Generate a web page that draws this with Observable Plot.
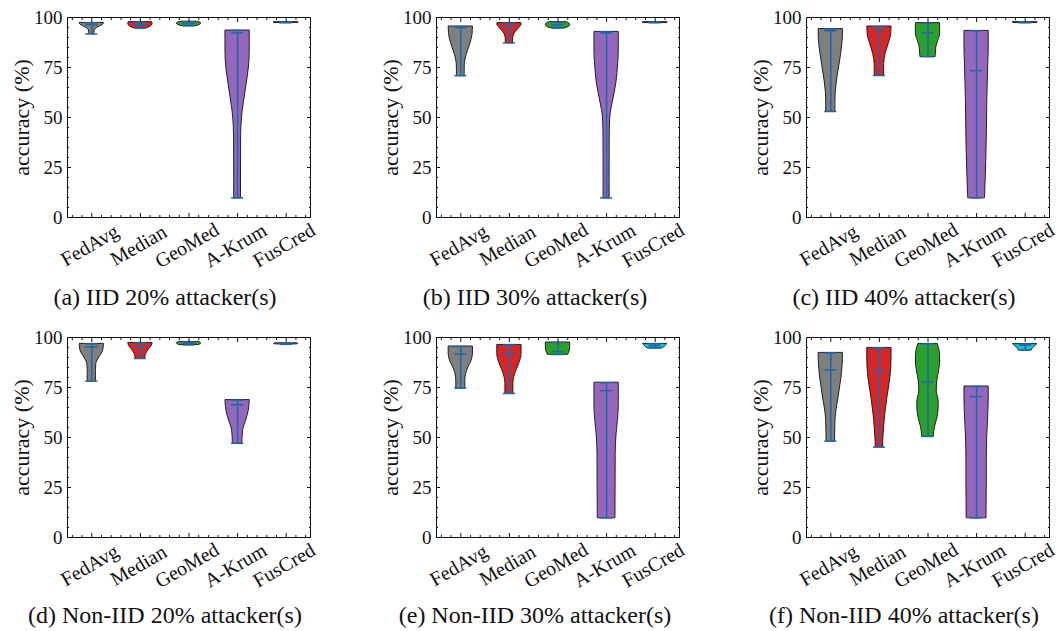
<!DOCTYPE html>
<html><head><meta charset="utf-8">
<script src="https://cdn.jsdelivr.net/npm/d3@7"></script>
<script src="https://cdn.jsdelivr.net/npm/@observablehq/plot@0.6"></script>
<style>
html,body{margin:0;padding:0;background:#fff;overflow:hidden}
#root{position:relative;width:1058px;height:631px;font-family:"Liberation Serif",serif;color:#111}
.panel{position:absolute}
.panel svg, .panel svg text{font-family:"Liberation Serif",serif !important}
.cap{position:absolute;font-size:24px;white-space:nowrap;transform:translate(-50%,-50%);line-height:1}
</style></head><body><div id="root"></div>
<script>
// ---------------- data ----------------
const methods = ["FedAvg", "Median", "GeoMed", "A-Krum", "FusCred"];
const bodyColors = ["#7f7f7f", "#d62728", "#2ca02c", "#9467bd", "#17becf"];
const yTicks = [0, 25, 50, 75, 100];
const yMinorTicks = [5,10,15,20,30,35,40,45,55,60,65,70,80,85,90,95];
const xMajorTicks = [1, 2, 3, 4, 5];
const xMinorTicks = [0.6,0.8,1.2,1.4,1.6,1.8,2.2,2.4,2.6,2.8,3.2,3.4,3.6,3.8,4.2,4.4,4.6,4.8,5.2,5.4];
const captions = ["(a) IID 20% attacker(s)", "(b) IID 30% attacker(s)", "(c) IID 40% attacker(s)",
                  "(d) Non-IID 20% attacker(s)", "(e) Non-IID 30% attacker(s)", "(f) Non-IID 40% attacker(s)"];

// per panel: min, max, mean line, and violin profile [accuracy, relative width]
const iid20Min = [91.8, 94.7, 95.8, 9.8, 97.4];
const iid20Max = [97.3, 97.7, 97.9, 93.5, 97.7];
const iid20Mid = [96.4, 96.5, 97.0, 92.3, 97.55];
const iid20Shape = [
  [[91.8,0.22],[93,0.22],[94.3,0.33],[95.7,0.73],[96.5,0.95],[97.3,1]],
  [[94.7,0.58],[95.3,0.8],[96,0.95],[97,1],[97.7,0.95]],
  [[95.8,0.65],[96.3,0.9],[97,1],[97.5,0.9],[97.9,0.65]],
  [[9.8,0.28],[25,0.28],[40,0.29],[50,0.36],[58,0.53],[67,0.75],[75,0.93],[83,1],[93.5,1]],
  [[97.4,1],[97.7,1]]
];

const iid30Min = [70.9, 87.3, 94.7, 9.8, 97.4];
const iid30Max = [95.5, 97.2, 97.7, 92.8, 97.7];
const iid30Mid = [95.0, 95.5, 96.3, 92.3, 97.55];
const iid30Shape = [
  [[70.9,0.32],[75,0.32],[78.4,0.37],[83.4,0.59],[86.7,0.78],[91.7,0.97],[95.5,1]],
  [[87.3,0.3],[89,0.3],[91,0.35],[93,0.55],[95,0.85],[96.5,1],[97.2,0.98]],
  [[94.7,0.65],[95.3,0.9],[96.3,1],[97.2,0.9],[97.7,0.65]],
  [[9.8,0.25],[25,0.25],[42,0.26],[50,0.3],[58,0.52],[67,0.8],[75,0.93],[83,1],[92.8,1]],
  [[97.4,1],[97.7,1]]
];

const iid40Min = [53.0, 71.0, 80.4, 9.8, 97.4];
const iid40Max = [94.2, 95.5, 97.2, 93.3, 97.7];
const iid40Mid = [93.4, 93.1, 92.3, 73.4, 97.55];
const iid40Shape = [
  [[53,0.38],[58.6,0.38],[67,0.48],[75,0.68],[83.5,0.89],[90,0.99],[94.2,1]],
  [[71,0.38],[76.7,0.39],[81.7,0.51],[86.7,0.76],[91.6,0.97],[95.5,1]],
  [[80.4,0.63],[82,0.65],[85,0.68],[88.3,0.84],[91.7,1],[95,1],[97.2,0.98]],
  [[9.8,0.69],[25,0.78],[40,0.84],[58,0.88],[75,0.95],[85,1],[93.3,1]],
  [[97.4,1],[97.7,1]]
];

const noniid20Min = [78.2, 89.5, 96.3, 47.1, 96.6];
const noniid20Max = [96.8, 97.3, 97.8, 68.7, 97.1];
const noniid20Mid = [95.3, 95.8, 97.1, 66.4, 96.85];
const noniid20Shape = [
  [[78.2,0.34],[83.4,0.34],[86.7,0.37],[90,0.62],[93.3,0.93],[96.8,1]],
  [[89.5,0.39],[91.7,0.47],[94.2,0.73],[96,0.95],[97.3,1]],
  [[96.3,0.85],[97,1],[97.8,0.85]],
  [[47.1,0.39],[53.4,0.45],[58.4,0.7],[63.4,0.92],[68.7,1]],
  [[96.6,0.9],[96.85,1],[97.1,0.9]]
];

const noniid30Min = [74.7, 72.0, 91.5, 9.8, 94.7];
const noniid30Max = [95.5, 96.3, 97.5, 77.4, 96.8];
const noniid30Mid = [91.7, 92.0, 93.0, 73.4, 95.8];
const noniid30Shape = [
  [[74.7,0.37],[78.4,0.37],[81.7,0.44],[85,0.62],[88.4,0.89],[92,1],[95.5,1]],
  [[72,0.33],[76.7,0.33],[81.7,0.47],[86.7,0.8],[91.7,1],[96.3,1]],
  [[91.5,0.85],[93,0.95],[95,1],[97.5,1]],
  [[9.8,0.73],[25,0.74],[41.8,0.75],[50,0.8],[58.4,0.93],[65,1],[77.4,1]],
  [[94.7,0.68],[95.5,0.8],[96.3,0.95],[96.8,1]]
];

const noniid40Min = [48.2, 45.2, 50.5, 9.8, 93.7];
const noniid40Max = [92.3, 94.8, 96.8, 75.5, 96.7];
const noniid40Mid = [83.8, 83.3, 77.8, 70.5, 96.2];
const noniid40Shape = [
  [[48.2,0.35],[53,0.36],[60,0.4],[65,0.5],[70,0.64],[75,0.76],[80,0.88],[85,0.96],[90,1],[92.3,1]],
  [[45.2,0.3],[50,0.33],[55,0.38],[62,0.49],[70,0.66],[78,0.86],[85,0.98],[90,1],[94.8,1]],
  [[50.5,0.47],[55,0.57],[60,0.78],[65,0.88],[68,0.88],[73,0.72],[78,0.76],[83,0.9],[88,1],[92,0.98],[96.8,0.8]],
  [[9.8,0.82],[20,0.83],[30,0.84],[40,0.84],[50,0.87],[60,0.95],[70,1],[75.5,1]],
  [[93.7,0.55],[94.7,0.65],[95.8,0.85],[96.7,1]]
];

// ---------------- drawing ----------------
const blue = "#1f67a8";
const ink = "#111";
const serif = "Liberation Serif";

function violinPanel(shape, mins, maxs, mids) {
  const bodies = [];
  methods.forEach((m, i) => shape[i].forEach(([acc, w]) =>
    bodies.push({method: m, pos: i + 1, acc, lo: i + 1 - 0.25 * w, hi: i + 1 + 0.25 * w})));
  const stats = methods.map((m, i) => ({method: m, pos: i + 1, min: mins[i], max: maxs[i], mid: mids[i]}));
  const capLine = k => Plot.ruleY(stats, {y: k, x1: d => d.pos - 0.125, x2: d => d.pos + 0.125, stroke: blue, strokeWidth: 1.5});
  return Plot.plot({
    width: 313, height: 275,
    marginLeft: 62, marginRight: 8, marginTop: 12, marginBottom: 63,
    style: {fontFamily: serif, fontSize: "19px", color: ink, background: "transparent", overflow: "visible"},
    x: {type: "linear", domain: [0.5, 5.5]},
    y: {domain: [0, 100]},
    color: {domain: methods, range: bodyColors},
    marks: [
      Plot.areaX(bodies, {y: "acc", x1: "lo", x2: "hi", z: "method", fill: "method", stroke: ink, strokeWidth: 0.9, curve: "monotone-y"}),
      Plot.ruleX(stats, {x: "pos", y1: "min", y2: "max", stroke: blue, strokeWidth: 1.5}),
      capLine("min"), capLine("max"), capLine("mid"),
      Plot.frame({stroke: ink, strokeWidth: 1}),
      Plot.axisY(yTicks, {anchor: "left", tickSize: 0, tickPadding: 5, label: null, fontSize: 19, fontFamily: serif, fill: ink}),
      Plot.axisY(yTicks, {anchor: "left", tickSize: -4, fill: "none", stroke: ink, label: null}),
      Plot.axisY(yTicks, {anchor: "right", tickSize: -4, fill: "none", stroke: ink, label: null}),
      Plot.axisY(yMinorTicks, {anchor: "left", tickSize: -2, fill: "none", stroke: ink, label: null}),
      Plot.axisY(yMinorTicks, {anchor: "right", tickSize: -2, fill: "none", stroke: ink, label: null}),
      Plot.axisX(xMajorTicks, {anchor: "bottom", tickSize: -4, fill: "none", stroke: ink, label: null}),
      Plot.axisX(xMajorTicks, {anchor: "top", tickSize: -4, fill: "none", stroke: ink, label: null}),
      Plot.axisX(xMinorTicks, {anchor: "bottom", tickSize: -2, fill: "none", stroke: ink, label: null}),
      Plot.axisX(xMinorTicks, {anchor: "top", tickSize: -2, fill: "none", stroke: ink, label: null}),
      Plot.text(methods, {x: (d, i) => i + 1, frameAnchor: "bottom", dx: -2, dy: 28, rotate: -30, textAnchor: "middle", lineAnchor: "middle", fontSize: 20, fontFamily: serif, fill: ink}),
      Plot.text(["accuracy (%)"], {frameAnchor: "left", dx: -46, rotate: -90, textAnchor: "middle", lineAnchor: "middle", fontSize: 22, fontFamily: serif, fill: ink})
    ]
  });
}

const panels = [
  [iid20Shape, iid20Min, iid20Max, iid20Mid],
  [iid30Shape, iid30Min, iid30Max, iid30Mid],
  [iid40Shape, iid40Min, iid40Max, iid40Mid],
  [noniid20Shape, noniid20Min, noniid20Max, noniid20Mid],
  [noniid30Shape, noniid30Min, noniid30Max, noniid30Mid],
  [noniid40Shape, noniid40Min, noniid40Max, noniid40Mid]
];
const panelLeft = [5, 374, 744];
const panelTop = [5, 325];
const capX = [165, 535, 904];
const capY = [297, 615];

const root = document.getElementById("root");
panels.forEach((p, k) => {
  const col = k % 3, row = Math.floor(k / 3);
  const div = document.createElement("div");
  div.className = "panel";
  div.style.left = panelLeft[col] + "px";
  div.style.top = panelTop[row] + "px";
  div.appendChild(violinPanel(...p));
  root.appendChild(div);
  const cap = document.createElement("div");
  cap.className = "cap";
  cap.style.left = capX[col] + "px";
  cap.style.top = capY[row] + "px";
  cap.textContent = captions[k];
  root.appendChild(cap);
});
</script></body></html>
